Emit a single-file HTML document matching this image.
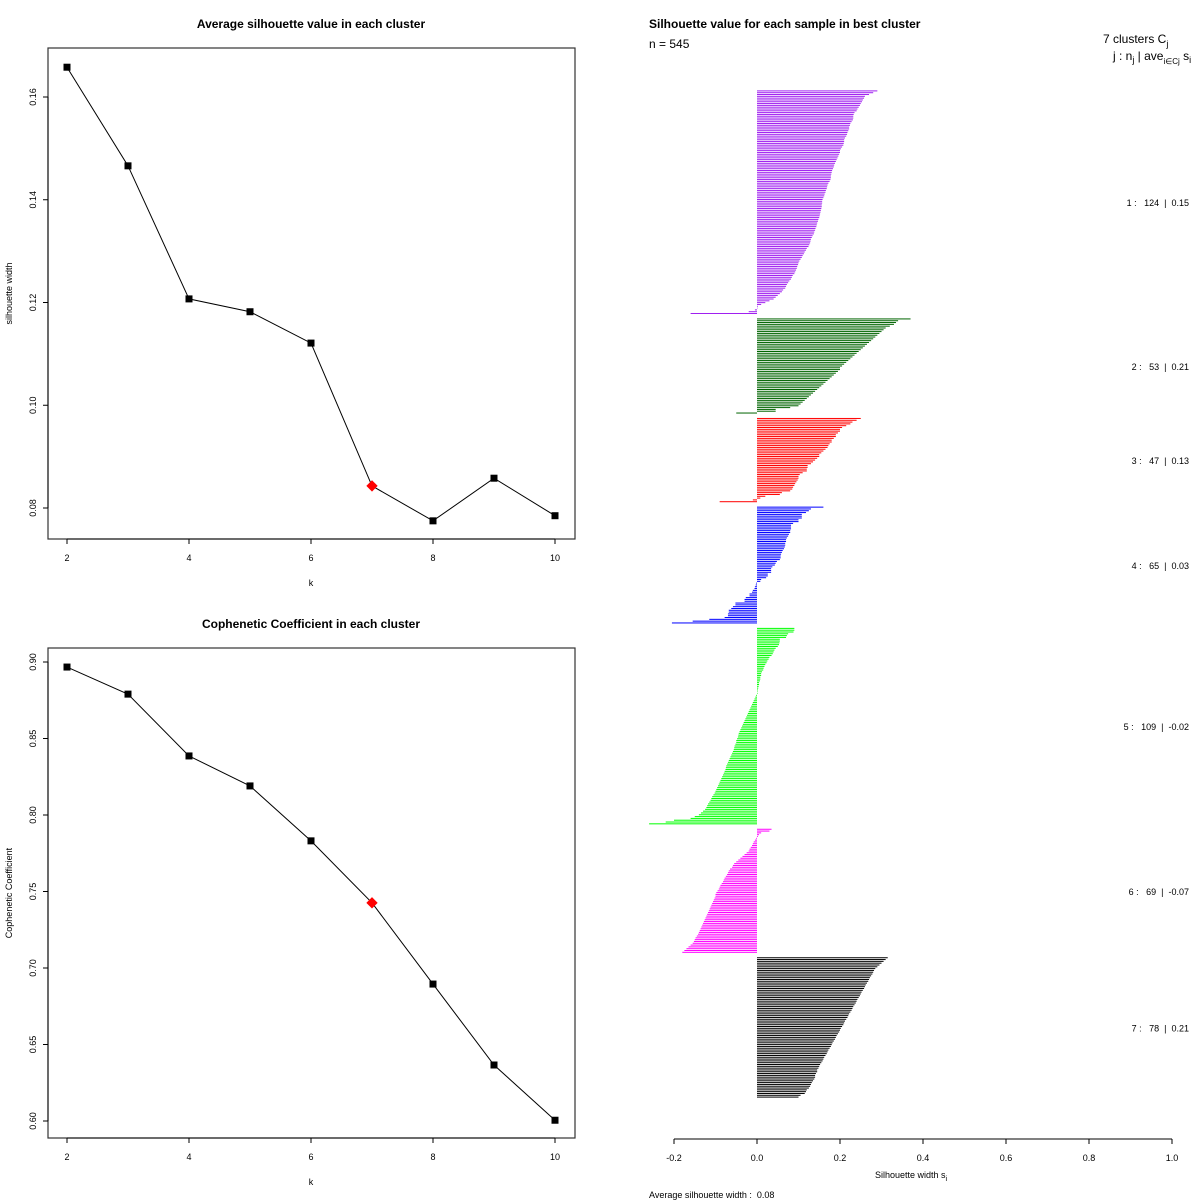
<!DOCTYPE html>
<html><head><meta charset="utf-8"><style>
body{margin:0;background:#fff}
svg{display:block;font-family:"Liberation Sans",sans-serif}
.pre{white-space:pre}
</style></head><body>
<svg id="s" width="1200" height="1200" viewBox="0 0 1200 1200"></svg>
<script>
const ks=[2,3,4,5,6,7,8,9,10];
const silAvg=[0.1658,0.1466,0.1207,0.1182,0.1121,0.0843,0.0775,0.0858,0.0785];
const coph=[0.8967,0.879,0.8386,0.819,0.7831,0.7426,0.6895,0.6366,0.6005];
const bestIdx=5;
const silYTicks=[0.08,0.10,0.12,0.14,0.16];
const cophYTicks=[0.60,0.65,0.70,0.75,0.80,0.85,0.90];
const kTicks=[2,4,6,8,10];
const clusterColors=["#A020F0","#006400","#FF0000","#0000FF","#00FF00","#FF00FF","#000000"];
const clusterN=[124,53,47,65,109,69,78];
const clusterAve=["0.15","0.21","0.13","0.03","-0.02","-0.07","0.21"];
const c1=[0.29,0.28,0.27,0.26,0.258,0.255,0.253,0.25,0.248,0.245,0.242,0.24,0.235,0.233,0.232,0.232,0.231,0.228,0.225,0.224,
0.222,0.222,0.22,0.218,0.217,0.215,0.212,0.21,0.21,0.209,0.208,0.205,0.202,0.2,0.2,0.198,0.196,0.194,0.192,0.19,
0.188,0.186,0.185,0.183,0.181,0.18,0.179,0.178,0.178,0.177,0.175,0.172,0.17,0.169,0.168,0.166,0.165,0.163,0.162,0.16,
0.158,0.157,0.157,0.156,0.156,0.155,0.154,0.153,0.152,0.151,0.15,0.148,0.147,0.145,0.144,0.143,0.141,0.14,0.138,0.137,
0.134,0.132,0.13,0.129,0.128,0.126,0.124,0.12,0.118,0.115,0.113,0.11,0.108,0.105,0.102,0.1,0.099,0.097,0.096,0.094,
0.092,0.09,0.086,0.084,0.082,0.078,0.075,0.072,0.07,0.068,0.063,0.06,0.055,0.05,0.045,0.04,0.03,0.02,0.01,0.002,
0,-0.005,-0.02,-0.16];
const c2=[0.37,0.34,0.335,0.33,0.32,0.31,0.305,0.3,0.295,0.29,0.285,0.28,0.275,0.27,0.265,0.26,0.255,0.25,0.245,0.24,
0.235,0.23,0.225,0.22,0.215,0.21,0.205,0.2,0.2,0.195,0.19,0.185,0.18,0.175,0.17,0.165,0.16,0.155,0.15,0.145,
0.14,0.135,0.13,0.125,0.12,0.115,0.11,0.105,0.1,0.08,0.045,0.045,-0.05];
const c3=[0.25,0.24,0.23,0.225,0.215,0.205,0.2,0.2,0.195,0.19,0.19,0.185,0.18,0.18,0.175,0.172,0.17,0.165,0.16,0.155,
0.15,0.15,0.145,0.14,0.135,0.13,0.122,0.122,0.12,0.12,0.11,0.103,0.1,0.1,0.098,0.095,0.092,0.09,0.087,0.085,
0.08,0.06,0.055,0.02,0.008,-0.01,-0.09];
const c4=[0.16,0.13,0.125,0.118,0.108,0.108,0.108,0.1,0.1,0.087,0.082,0.082,0.082,0.08,0.08,0.077,0.075,0.072,0.07,0.07,
0.068,0.068,0.067,0.065,0.062,0.06,0.058,0.057,0.057,0.055,0.048,0.045,0.043,0.037,0.034,0.034,0.034,0.026,0.026,0.022,
0.01,0.008,-0.002,-0.003,-0.005,-0.006,-0.01,-0.012,-0.018,-0.018,-0.027,-0.03,-0.03,-0.052,-0.052,-0.058,-0.062,-0.068,-0.068,-0.07,
-0.07,-0.078,-0.115,-0.155,-0.205];
const c5=[0.09,0.09,0.088,0.075,0.072,0.07,0.055,0.055,0.054,0.053,0.05,0.045,0.042,0.04,0.038,0.035,0.03,0.028,0.025,0.023,
0.02,0.018,0.016,0.015,0.012,0.01,0.01,0.008,0.008,0.007,0.005,0.005,0.004,0.003,0.002,0.001,0,-0.002,-0.004,-0.006,
-0.008,-0.01,-0.012,-0.014,-0.016,-0.018,-0.02,-0.022,-0.024,-0.026,-0.028,-0.03,-0.032,-0.034,-0.036,-0.038,-0.04,-0.042,-0.044,-0.045,
-0.046,-0.048,-0.05,-0.05,-0.052,-0.054,-0.055,-0.056,-0.058,-0.06,-0.062,-0.064,-0.066,-0.068,-0.07,-0.072,-0.074,-0.075,-0.076,-0.078,
-0.08,-0.082,-0.084,-0.086,-0.088,-0.09,-0.092,-0.094,-0.096,-0.098,-0.1,-0.102,-0.105,-0.108,-0.11,-0.112,-0.115,-0.118,-0.12,-0.122,
-0.125,-0.13,-0.135,-0.14,-0.15,-0.16,-0.2,-0.22,-0.26];
const c6=[0.035,0.03,0.01,0.005,0.002,-0.002,-0.005,-0.008,-0.01,-0.012,-0.015,-0.018,-0.02,-0.025,-0.03,-0.035,-0.04,-0.045,-0.05,-0.055,
-0.058,-0.06,-0.065,-0.068,-0.07,-0.072,-0.075,-0.078,-0.08,-0.082,-0.085,-0.088,-0.09,-0.092,-0.095,-0.098,-0.1,-0.1,-0.102,-0.104,
-0.106,-0.108,-0.11,-0.112,-0.114,-0.116,-0.118,-0.12,-0.122,-0.124,-0.126,-0.128,-0.13,-0.132,-0.134,-0.136,-0.138,-0.14,-0.142,-0.145,
-0.148,-0.15,-0.152,-0.155,-0.16,-0.165,-0.17,-0.175,-0.18];
const c7=[0.315,0.31,0.305,0.3,0.295,0.29,0.285,0.282,0.28,0.278,0.275,0.272,0.27,0.268,0.265,0.262,0.26,0.258,0.255,0.252,
0.25,0.248,0.245,0.242,0.24,0.238,0.235,0.232,0.23,0.228,0.225,0.222,0.22,0.218,0.215,0.212,0.21,0.208,0.205,0.202,
0.2,0.198,0.195,0.192,0.19,0.188,0.185,0.182,0.18,0.178,0.175,0.172,0.17,0.168,0.165,0.162,0.16,0.158,0.155,0.152,
0.15,0.148,0.145,0.145,0.142,0.14,0.14,0.138,0.135,0.132,0.13,0.128,0.125,0.12,0.118,0.115,0.105,0.1];
const silXTicks=[-0.2,0,0.2,0.4,0.6,0.8,1.0];
const silXLabels=["-0.2","0.0","0.2","0.4","0.6","0.8","1.0"];

const NS="http://www.w3.org/2000/svg";
const svg=document.getElementById('s');
function el(tag,attrs,parent,text){const e=document.createElementNS(NS,tag);for(const k in attrs)e.setAttribute(k,attrs[k]);if(text!==undefined)e.textContent=text;(parent||svg).appendChild(e);return e;}

function linePanel(cfg){
  const g=el('g',{});
  
  
  const X=k=>67+(k-2)*(555-67)/8;
  const Y=v=>cfg.y0+(v-cfg.v0)*(cfg.y1-cfg.y0)/(cfg.v1-cfg.v0);
  const fr=el('rect',{x:48,y:cfg.top,width:527,height:cfg.bot-cfg.top,fill:'none',stroke:'#333','stroke-width':1.2},g);
  
  const t=el('text',{x:311,y:cfg.top-20,'text-anchor':'middle','font-size':12,'font-weight':'bold'},g,cfg.title);
  
  const xa=el('g',{},g);
  el('line',{x1:X(2),x2:X(10),y1:cfg.bot,y2:cfg.bot,stroke:'#000'},xa);
  kTicks.forEach(k=>{el('line',{x1:X(k),x2:X(k),y1:cfg.bot,y2:cfg.bot+5,stroke:'#000'},xa);
    const tl=el('text',{x:X(k),y:cfg.bot+22,'text-anchor':'middle','font-size':9},xa,String(k));
    });
  const xt=el('text',{x:311,y:cfg.bot+47,'text-anchor':'middle','font-size':9},g,'k');
  
  const ya=el('g',{},g);
  const yt=cfg.ticks;
  el('line',{x1:48,x2:48,y1:Y(yt[0]),y2:Y(yt[yt.length-1]),stroke:'#000'},ya);
  yt.forEach(v=>{el('line',{x1:43,x2:48,y1:Y(v),y2:Y(v),stroke:'#000'},ya);
    const tl=el('text',{x:0,y:0,'text-anchor':'middle','font-size':9,transform:`translate(36,${Y(v)}) rotate(-90)`},ya,v.toFixed(2));
    });
  const ytt=el('text',{x:0,y:0,'text-anchor':'middle','font-size':9,transform:`translate(12,${(cfg.top+cfg.bot)/2}) rotate(-90)`},g,cfg.ytitle);
  
  const pts=ks.map((k,i)=>X(k)+','+Y(cfg.vals[i])).join(' ');
  const pl=el('polyline',{points:pts,fill:'none',stroke:'#000','stroke-width':1},g);
  
  ks.forEach((k,i)=>{
    let m;
    if(i===bestIdx){m=el('rect',{x:X(k)-4,y:Y(cfg.vals[i])-4,width:8,height:8,fill:'#f00',transform:`rotate(45 ${X(k)} ${Y(cfg.vals[i])})`},g);
      }
    else{m=el('rect',{x:X(k)-3.5,y:Y(cfg.vals[i])-3.5,width:7,height:7,fill:'#000'},g);
      }
    
  });
}
linePanel({name:'silhouette-line-chart',top:48,bot:539,y0:508,v0:0.08,y1:97,v1:0.16,ticks:silYTicks,vals:silAvg,title:'Average silhouette value in each cluster',ytitle:'silhouette width'});
linePanel({name:'cophenetic-line-chart',top:648,bot:1138,y0:1121,v0:0.60,y1:662,v1:0.90,ticks:cophYTicks,vals:coph,title:'Cophenetic Coefficient in each cluster',ytitle:'Cophenetic Coefficient'});

const clusters=[c1,c2,c3,c4,c5,c6,c7];
const sg=el('g',{});


const SX=v=>757+v*415;
const gap=2;
const total=clusters.reduce((a,c)=>a+c.length,0)+gap*(clusters.length-1);
const pitch=(1098-90)/total;
let row=0;
clusters.forEach((c,ci)=>{
  const cg=el('g',{},sg);
  
  
  const start=row;
  c.forEach((v,i)=>{
    const y=90+(row+0.5)*pitch;
    const x0=Math.min(SX(0),SX(v)),w=Math.max(0.5,Math.abs(SX(v)-SX(0)));
    const b=el('rect',{x:x0,y:y-0.5,width:w,height:1,fill:clusterColors[ci]},cg);
    
    
    row++;
  });
  const mid=90+((start+row)/2)*pitch;
  const lb=el('text',{x:1189,y:mid+4,'text-anchor':'end','font-size':9,'class':'pre'},sg,`${ci+1} :   ${clusterN[ci]}  |  ${clusterAve[ci]}`);
  
  
  row+=gap;
});
const sax=el('g',{},sg);


el('line',{x1:SX(-0.2),x2:SX(1),y1:1139,y2:1139,stroke:'#000'},sax);
silXTicks.forEach((v,i)=>{el('line',{x1:SX(v),x2:SX(v),y1:1139,y2:1144,stroke:'#000'},sax);
  const t=el('text',{x:SX(v),y:1161,'text-anchor':'middle','font-size':9},sax,silXLabels[i]);
  });
const xt=el('text',{x:911,y:1178,'text-anchor':'middle','font-size':9},sg);

xt.innerHTML='Silhouette width s<tspan font-size="7" dy="3">i</tspan>';
function txt(name,x,y,s,opts){const t=el('text',Object.assign({x,y,'font-size':9},opts||{}),sg,s);return t;}
txt('chart-title',649,28,'Silhouette value for each sample in best cluster',{'font-size':12,'font-weight':'bold'});
txt('n-label',649,48,'n = 545',{'font-size':12});
const lt=txt('legend-title',1103,43,'',{'font-size':12});
lt.innerHTML='7 clusters  C<tspan font-size="9" dy="4">j</tspan>';
const lh=txt('legend-header',1113,60,'',{'font-size':12});
lh.innerHTML='j :  n<tspan font-size="9" dy="3">j</tspan><tspan dy="-3"> | ave</tspan><tspan font-size="8" dy="4">i∈Cj</tspan><tspan dy="-4"> s</tspan><tspan font-size="9" dy="3">i</tspan>';
txt('average-silhouette-width',649,1198,'Average silhouette width :  0.08',{'class':'pre'});
</script>
</body></html>
